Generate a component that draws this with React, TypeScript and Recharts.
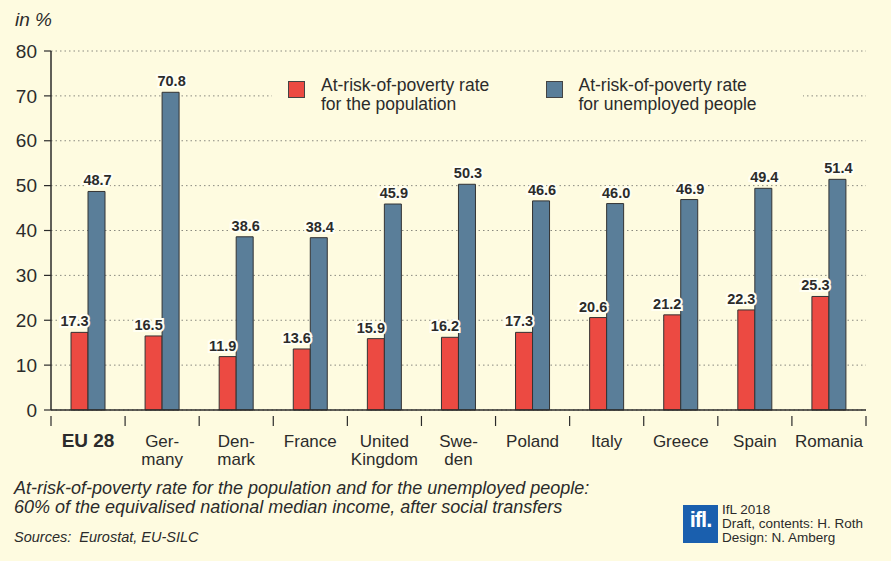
import { BarChart, Bar, XAxis, YAxis, CartesianGrid, Legend, LabelList } from 'recharts'

const categories = ['EU 28', 'Ger-\nmany', 'Den-\nmark', 'France', 'United\nKingdom', 'Swe-\nden', 'Poland', 'Italy', 'Greece', 'Spain', 'Romania']
const populationRate = [17.3, 16.5, 11.9, 13.6, 15.9, 16.2, 17.3, 20.6, 21.2, 22.3, 25.3]
const unemployedRate = [48.7, 70.8, 38.6, 38.4, 45.9, 50.3, 46.6, 46.0, 46.9, 49.4, 51.4]
const yTicks = [0, 10, 20, 30, 40, 50, 60, 70, 80]

const data = categories.map((name, i) => ({
  name,
  population: populationRate[i],
  unemployed: unemployedRate[i],
}))

const BG = '#fefbe0'
const RED = '#ec4a42'
const BLUE = '#5a7e99'
const TEXT = '#2b2b2b'
const FONT = '"Liberation Sans", Arial, sans-serif'

const PLOT_LEFT = 51
const PLOT_RIGHT = 866
const PLOT_TOP = 51
const PLOT_BOTTOM = 410
const BAND = (PLOT_RIGHT - PLOT_LEFT) / categories.length

function CategoryTick(props: any) {
  const { x, y, payload, index } = props
  const lines = String(payload.value).split('\n')
  const bold = index === 0
  return (
    <g>
      <line x1={x - BAND / 2} x2={x - BAND / 2} y1={y - 2} y2={y + 8} stroke={TEXT} strokeWidth={1.2} />
      {index === categories.length - 1 && (
        <line x1={x + BAND / 2} x2={x + BAND / 2} y1={y - 2} y2={y + 8} stroke={TEXT} strokeWidth={1.2} />
      )}
      {lines.map((l, i) => (
        <text
          key={i}
          x={x}
          y={y + 29 + i * 17.5}
          textAnchor="middle"
          fontFamily={FONT}
          fontSize={bold ? 19 : 17}
          fontWeight={bold ? 'bold' : 'normal'}
          fill={TEXT}
        >
          {l}
        </text>
      ))}
    </g>
  )
}

function makeLabel(shift: number) {
  return function ValueLabel(props: any) {
    const { x, y, width, value } = props
    return (
      <text
        x={x + width / 2 + shift}
        y={y - 6}
        textAnchor="middle"
        fontFamily={FONT}
        fontSize={14.5}
        fontWeight="bold"
        fill={TEXT}
        stroke="#fffff4"
        strokeWidth={4}
        paintOrder="stroke"
      >
        {Number(value).toFixed(1)}
      </text>
    )
  }
}
const RedLabel = makeLabel(-5)
const BlueLabel = makeLabel(1)

function LegendBox() {
  const item = (color: string, l1: string, l2: string) => (
    <div style={{ display: 'flex', alignItems: 'flex-start', width: 280 }}>
      <div style={{ width: 15, height: 15, background: color, border: '1px solid #444', marginTop: 5, marginRight: 16 }} />
      <div style={{ fontFamily: FONT, fontSize: 17.5, lineHeight: '19px', color: TEXT, textAlign: 'left' }}>
        {l1}
        <br />
        {l2}
      </div>
    </div>
  )
  return (
    <div style={{ background: BG, width: 531, height: 60, display: 'flex', paddingLeft: 16, paddingTop: 11, boxSizing: 'border-box' }}>
      {item(RED, 'At-risk-of-poverty rate', 'for the population')}
      {item(BLUE, 'At-risk-of-poverty rate', 'for unemployed people')}
    </div>
  )
}

export default function App() {
  return (
    <div style={{ position: 'absolute', left: 0, top: 0, width: 891, height: 561, background: BG, overflow: 'hidden' }}>
      <div style={{ position: 'absolute', left: 15, top: 9, fontFamily: FONT, fontStyle: 'italic', fontSize: 19, color: TEXT }}>
        in %
      </div>
      <BarChart
        width={891}
        height={561}
        data={data}
        margin={{ top: PLOT_TOP, right: 891 - PLOT_RIGHT, left: 0, bottom: 0 }}
        barSize={17}
        barGap={0}
      >
        <CartesianGrid vertical={false} stroke="#8a8a80" strokeDasharray="1.5 3" />
        <XAxis
          dataKey="name"
          interval={0}
          tick={<CategoryTick />}
          tickLine={false}
          axisLine={{ stroke: TEXT, strokeWidth: 1.5 }}
          height={561 - PLOT_BOTTOM}
        />
        <YAxis
          domain={[0, 80]}
          ticks={yTicks}
          width={PLOT_LEFT}
          tickSize={7}
          tickMargin={7}
          axisLine={{ stroke: TEXT, strokeWidth: 1.5 }}
          tickLine={{ stroke: TEXT, strokeWidth: 1.2 }}
          tick={{ fill: TEXT, fontSize: 19, fontFamily: FONT }}
        />
        <Legend
          layout="vertical"
          verticalAlign="middle"
          align="center"
          content={() => <LegendBox />}
          wrapperStyle={{ position: 'absolute', left: 272, top: 65, width: 531, height: 60 }}
        />
        <Bar dataKey="population" fill={RED} stroke="#333" strokeWidth={1} isAnimationActive={false}>
          <LabelList dataKey="population" content={<RedLabel />} />
        </Bar>
        <Bar dataKey="unemployed" fill={BLUE} stroke="#333" strokeWidth={1} isAnimationActive={false}>
          <LabelList dataKey="unemployed" content={<BlueLabel />} />
        </Bar>
      </BarChart>
      <div style={{ position: 'absolute', left: 14, top: 479, fontFamily: FONT, fontStyle: 'italic', fontSize: 18, lineHeight: '19px', color: TEXT }}>
        At-risk-of-poverty rate for the population and for the unemployed people:
        <br />
        60% of the equivalised national median income, after social transfers
      </div>
      <div style={{ position: 'absolute', left: 14, top: 529, fontFamily: FONT, fontStyle: 'italic', fontSize: 14.5, color: TEXT }}>
        Sources:&nbsp; Eurostat, EU-SILC
      </div>
      <div
        style={{
          position: 'absolute',
          left: 683,
          top: 505,
          width: 35,
          height: 38,
          background: '#1a5fae',
          color: '#fff',
          fontFamily: FONT,
          fontWeight: 'bold',
          fontSize: 22,
          lineHeight: '30px',
          textAlign: 'center',
          letterSpacing: -1,
        }}
      >
        ifl.
      </div>
      <div style={{ position: 'absolute', left: 722, top: 503, fontFamily: FONT, fontSize: 13.5, lineHeight: '14px', color: TEXT }}>
        IfL 2018
        <br />
        Draft, contents: H. Roth
        <br />
        Design: N. Amberg
      </div>
    </div>
  )
}
